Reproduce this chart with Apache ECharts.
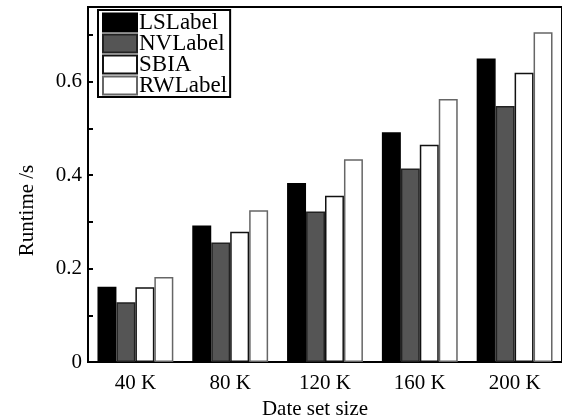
<!DOCTYPE html>
<html>
<head>
<meta charset="utf-8">
<script src="https://cdn.jsdelivr.net/npm/echarts@6/dist/echarts.min.js"></script>
<style>
  html, body { margin: 0; padding: 0; background: #fff; }
  #chart { width: 562px; height: 419px; }
</style>
</head>
<body>
<div id="chart"></div>
<script>
const categorias = ["40 K", "80 K", "120 K", "160 K", "200 K"];
const lsLabel = [0.161, 0.292, 0.383, 0.492, 0.650];
const nvLabel = [0.128, 0.256, 0.322, 0.414, 0.548];
const sbia = [0.160, 0.279, 0.356, 0.465, 0.619];
const rwLabel = [0.182, 0.325, 0.434, 0.563, 0.706];

const fonte = "Liberation Serif, Times New Roman, serif";
const chart = echarts.init(document.getElementById("chart"));

function serie(nome, dados, cor, borda) {
  return {
    name: nome,
    type: "bar",
    data: dados,
    barGap: "0%",
    barCategoryGap: "20%",
    itemStyle: { color: cor, borderColor: borda, borderWidth: 1.5 },
  };
}

chart.setOption({
  animation: false,
  grid: {
    left: 88, right: 0, top: 7, bottom: 57,
    outerBoundsMode: "none",
    containLabel: false,
    show: true, borderColor: "#000", borderWidth: 2,
  },
  legend: {
    orient: "vertical",
    left: 98, top: 10,
    itemWidth: 34, itemHeight: 18, itemGap: -2,
    icon: "rect",
    padding: [1, 3, 0, 4],
    borderColor: "#000", borderWidth: 2,
    backgroundColor: "#fff",
    textStyle: {
      fontFamily: fonte, fontSize: 23, lineHeight: 18, color: "#000",
      padding: [0, 0, 0, -3],
    },
    data: ["LSLabel", "NVLabel", "SBIA", "RWLabel"],
  },
  xAxis: {
    type: "category",
    data: categorias,
    name: "Date set size",
    nameLocation: "middle",
    nameGap: 37,
    nameTextStyle: { fontFamily: fonte, fontSize: 21, color: "#000", padding: [0, 20, 0, 0] },
    axisLine: { lineStyle: { color: "#000", width: 2 } },
    axisTick: { inside: true, length: 4, lineStyle: { color: "#000", width: 2 } },
    axisLabel: { fontFamily: fonte, fontSize: 21, color: "#000", margin: 11 },
  },
  yAxis: {
    type: "value",
    min: 0, max: 0.76, interval: 0.2,
    name: "Runtime /s",
    nameLocation: "middle",
    nameGap: 50,
    nameRotate: 90,
    nameTextStyle: { fontFamily: fonte, fontSize: 21, color: "#000", padding: [0, 52, 0, 0] },
    axisLine: { show: true, lineStyle: { color: "#000", width: 2 } },
    axisTick: { show: true, inside: true, length: 5, lineStyle: { color: "#000", width: 2 } },
    minorTick: { show: true, splitNumber: 2, length: 5, lineStyle: { color: "#000", width: 2 } },
    splitLine: { show: false },
    axisLabel: {
      fontFamily: fonte, fontSize: 21, color: "#000", margin: 6,
      showMaxLabel: false,
      formatter: (v) => (v === 0 ? "0" : v.toFixed(1)),
    },
  },
  series: [
    serie("LSLabel", lsLabel, "#000", "#000"),
    serie("NVLabel", nvLabel, "#555", "#222"),
    serie("SBIA", sbia, "#fff", "#111"),
    serie("RWLabel", rwLabel, "#fff", "#666"),
  ],
});
</script>
</body>
</html>
